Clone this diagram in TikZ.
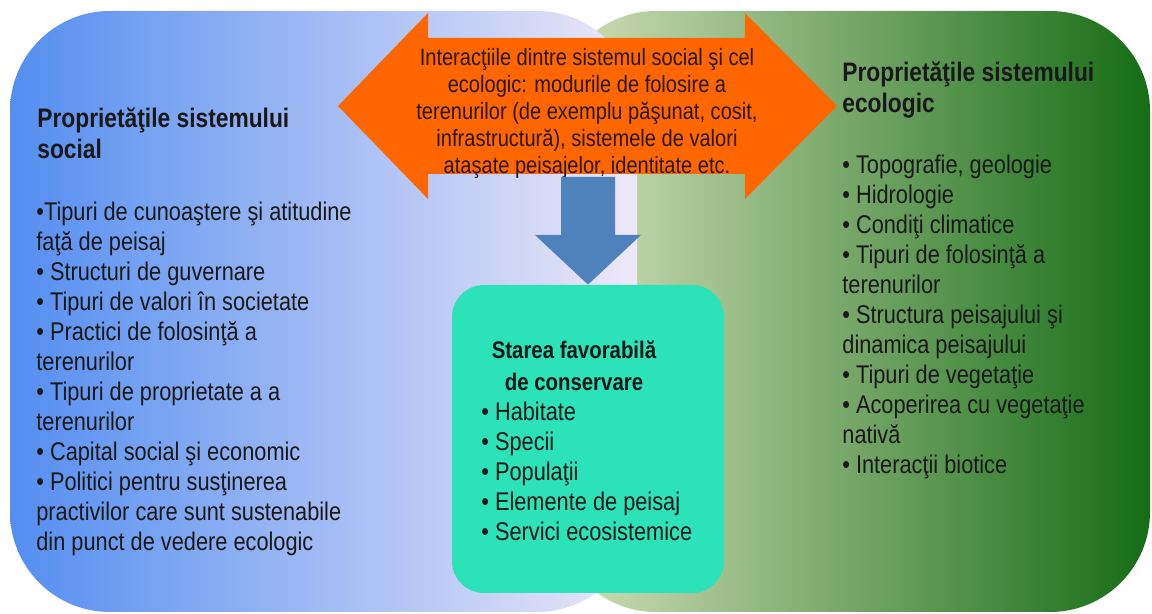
\documentclass[tikz,border=0pt]{standalone}
\usepackage{fontspec}
\setmainfont{Liberation Sans}[FakeStretch=0.85]
\usetikzlibrary{calc}
\definecolor{socblue}{RGB}{84,142,240}
\definecolor{socsky}{RGB}{148,198,250}
\definecolor{soclilac}{RGB}{238,232,248}
\definecolor{ecosage}{RGB}{212,224,186}
\definecolor{ecomoss}{RGB}{112,166,76}
\definecolor{ecoforest}{RGB}{22,108,22}
\definecolor{linkorange}{RGB}{255,102,0}
\definecolor{flowblue}{RGB}{79,129,189}
\definecolor{stateteal}{RGB}{44,226,184}
\definecolor{inkgray}{RGB}{24,24,24}
\definecolor{inkbrown}{RGB}{40,22,10}

\begin{document}
\begin{tikzpicture}[x=0.5pt, y=-0.5pt,
    panel/.style={rounded corners=50pt},
    heading/.style={anchor=north west, inner sep=0pt, align=left, text=inkgray,
      font=\bfseries\fontsize{13.4}{15.5}\selectfont},
    items/.style={anchor=north west, inner sep=0pt, align=left, text=inkgray,
      font=\fontsize{12.8}{15}\selectfont},
    linktext/.style={anchor=north, inner sep=0pt, align=center, text=inkbrown,
      font=\fontsize{11.8}{13.5}\selectfont},
    statebox/.style={rectangle, rounded corners=16pt, fill=stateteal,
      minimum width=136pt, minimum height=154pt, inner sep=0pt}
  ]
    \fill[white] (0,0) rectangle (1152,614);
    \useasboundingbox (0,0) rectangle (1152,614);

    % two systems
    \shade[panel, left color=ecosage, middle color=ecomoss, right color=ecoforest]
      (556,11) rectangle (1150,612);
    \shade[panel, left color=socblue, middle color=socsky, right color=soclilac]
      (10,11) rectangle (637,612);

    % interaction arrow
    \fill[linkorange] (338,106) -- (428,13) -- (428,38) -- (745,38) -- (745,13)
      -- (837,106) -- (745,199) -- (745,174) -- (428,174) -- (428,199) -- cycle;
    \node[linktext] (link) at (587,48) {Interacţiile dintre sistemul social şi cel\\
      ecologic: modurile de folosire a\\
      terenurilor (de exemplu păşunat, cosit,\\
      infrastructură), sistemele de valori\\
      ataşate peisajelor, identitate etc.};

    % conservation state
    \node[statebox] (state) at (588,439) {};
    \coordinate (flowtop) at (588,177);
    \fill[flowblue] ($(flowtop)+(-27,0)$) -- ($(flowtop)+(27,0)$)
      -- ($(flowtop)+(27,58)$) -- ($(flowtop)+(53,58)$) -- (state.north)
      -- ($(flowtop)+(-53,58)$) -- ($(flowtop)+(-27,58)$) -- cycle;

    \node[heading, anchor=north, align=center, font=\bfseries\fontsize{12}{16}\selectfont]
      (statetitle) at (574,340) {Starea favorabilă\\de conservare};
    \node[items] (statelist) at (481,402) {• Habitate\\• Specii\\• Populaţii\\
      • Elemente de peisaj\\• Servici ecosistemice};

    % social system
    \node[heading] (soctitle) at (37,107) {Proprietăţile sistemului\\social};
    \node[items] (soclist) at (36,202) {•Tipuri de cunoaştere şi atitudine\\
      faţă de peisaj\\
      • Structuri de guvernare\\
      • Tipuri de valori în societate\\
      • Practici de folosinţă a\\
      terenurilor\\
      • Tipuri de proprietate a a\\
      terenurilor\\
      • Capital social şi economic\\
      • Politici pentru susţinerea\\
      practivilor care sunt sustenabile\\
      din punct de vedere ecologic};

    % ecological system
    \node[heading] (ecotitle) at (842,61) {Proprietăţile sistemului\\ecologic};
    \node[items] (ecolist) at (842,155) {• Topografie, geologie\\
      • Hidrologie\\
      • Condiţi climatice\\
      • Tipuri de folosinţă a\\
      terenurilor\\
      • Structura peisajului şi\\
      dinamica peisajului\\
      • Tipuri de vegetaţie\\
      • Acoperirea cu vegetaţie\\
      nativă\\
      • Interacţii biotice};
  \end{tikzpicture}
\end{document}
